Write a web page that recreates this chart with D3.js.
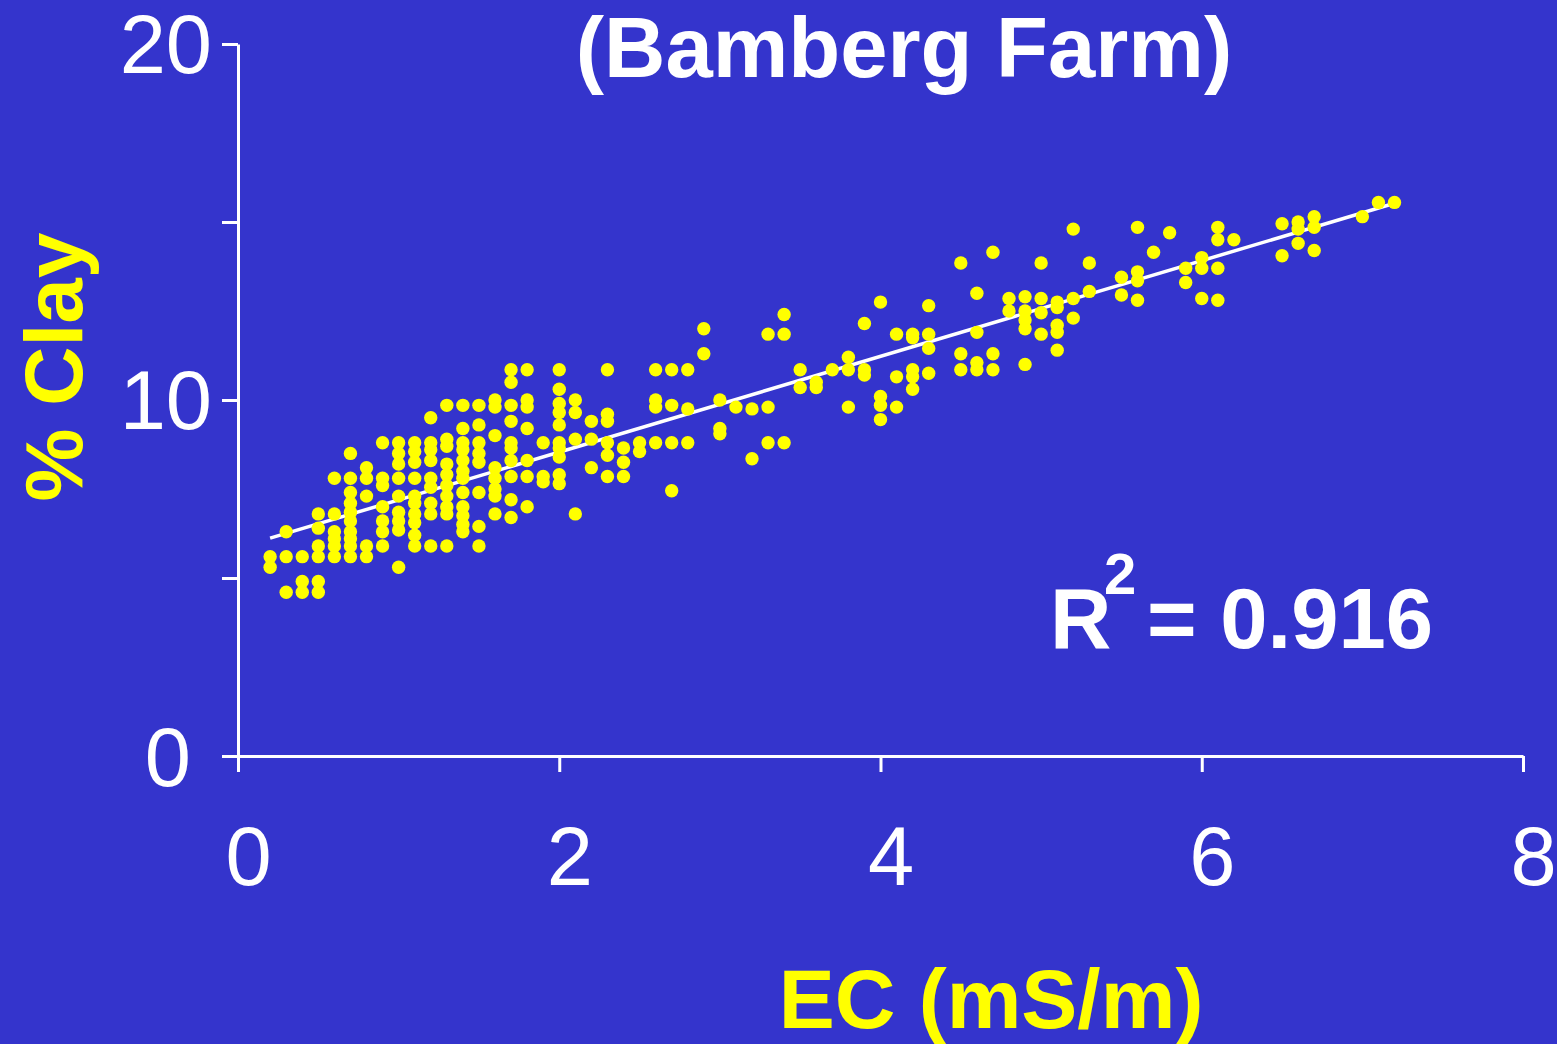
<!DOCTYPE html>
<html>
<head>
<meta charset="utf-8">
<script src="https://cdn.jsdelivr.net/npm/d3@7"></script>
<style>
  html, body { margin: 0; padding: 0; background: #3434cc; }
  svg { display: block; }
</style>
</head>
<body>
<div id="chart"></div>
<script>
// EC readings (mS/m), one entry per column of dots
var ecColumns = [0.2, 0.3, 0.4, 0.5, 0.6, 0.7, 0.8, 0.9, 1.0, 1.1, 1.2, 1.3, 1.4, 1.5, 1.6, 1.7, 1.8, 1.9,
  2.0, 2.1, 2.2, 2.3, 2.4, 2.5, 2.6, 2.7, 2.8, 2.9, 3.0, 3.1, 3.2, 3.3, 3.4, 3.5, 3.6, 3.7, 3.8, 3.9,
  4.0, 4.1, 4.2, 4.3, 4.5, 4.6, 4.7, 4.8, 4.9, 5.0, 5.1, 5.2, 5.3, 5.5, 5.6, 5.7, 5.8, 5.9,
  6.0, 6.1, 6.2, 6.5, 6.6, 6.7, 7.0, 7.1, 7.2];

// % clay values found at each EC column
var clayByColumn = [
  [5.6, 5.3],
  [6.3, 5.6, 4.6],
  [5.6, 4.9, 4.6],
  [6.8, 6.4, 5.9, 5.6, 4.9, 4.6],
  [7.8, 6.8, 6.3, 6.1, 5.9, 5.6],
  [8.5, 7.8, 7.4, 7.1, 6.85, 6.6, 6.3, 6.1, 5.9, 5.6],
  [8.1, 7.8, 7.3, 5.9, 5.6],
  [8.8, 7.8, 7.6, 7.0, 6.6, 6.3, 5.9],
  [8.8, 8.5, 8.2, 7.8, 7.3, 6.85, 6.6, 6.35, 5.3],
  [8.8, 8.55, 8.25, 7.8, 7.3, 7.1, 6.8, 6.55, 6.2, 5.9],
  [9.5, 8.8, 8.6, 8.3, 7.8, 7.55, 7.1, 6.8, 5.9],
  [9.85, 8.9, 8.7, 8.2, 7.9, 7.6, 7.3, 7.0, 6.8, 5.9],
  [9.85, 9.2, 8.8, 8.6, 8.3, 8.0, 7.8, 7.4, 7.0, 6.75, 6.5, 6.3],
  [9.85, 9.3, 8.8, 8.5, 8.25, 7.4, 6.45, 5.9],
  [10.0, 9.8, 9.0, 8.1, 7.8, 7.5, 7.3, 6.8],
  [10.85, 10.5, 9.85, 9.4, 8.8, 8.65, 8.3, 7.85, 7.2, 6.7],
  [10.85, 10.0, 9.8, 9.2, 8.3, 7.85, 7.0],
  [8.8, 7.85, 7.7],
  [10.85, 10.3, 9.9, 9.65, 9.3, 8.8, 8.65, 8.4, 7.9, 7.65],
  [10.0, 9.65, 8.9, 6.8],
  [9.4, 8.9, 8.1],
  [10.85, 9.6, 9.4, 8.8, 8.45, 7.85],
  [8.65, 8.25, 7.85],
  [8.8, 8.55],
  [10.85, 10.0, 9.8, 8.8],
  [10.85, 9.85, 8.8, 7.45],
  [10.85, 9.75, 8.8],
  [12.0, 11.3],
  [10.0, 9.2, 9.05],
  [9.8],
  [9.75, 8.35],
  [11.85, 9.8, 8.8],
  [12.4, 11.85, 8.8],
  [10.85, 10.35],
  [10.5, 10.35],
  [10.85],
  [11.2, 10.85, 9.8],
  [12.15, 10.85, 10.7],
  [12.75, 10.1, 9.85, 9.45],
  [11.85, 10.65, 9.8],
  [11.85, 11.75, 10.85, 10.65, 10.3],
  [12.65, 11.85, 11.45, 10.75],
  [13.85, 11.3, 10.85],
  [13.0, 11.9, 11.05, 10.85],
  [14.15, 11.3, 10.85],
  [12.85, 12.5],
  [12.9, 12.5, 12.25, 12.0, 11.0],
  [13.85, 12.85, 12.45, 11.85],
  [12.75, 12.6, 12.1, 11.9, 11.4],
  [14.8, 12.85, 12.3],
  [13.85, 13.05],
  [13.45, 12.95],
  [14.85, 13.6, 13.35, 12.8],
  [14.15],
  [14.7],
  [13.7, 13.3],
  [14.0, 13.7, 12.85],
  [14.85, 14.5, 13.7, 12.8],
  [14.5],
  [14.95, 14.05],
  [15.0, 14.8, 14.4],
  [15.15, 14.85, 14.2],
  [15.15],
  [15.55],
  [15.55]
];

// linear fit shown on the slide
var fitIntercept = 5.85;
var fitSlope = 1.344;
var rSquared = '0.916';

var xTicks = [0, 2, 4, 6, 8];
var yTicks = [0, 5, 10, 15, 20];

var titleText = '(Bamberg Farm)';
var xLabel = 'EC (mS/m)';
var yLabel = '% Clay';

//////////////////////////////////////////////////////////////
var width = 1557, height = 1044;
var bg = '#3434cc', yellow = '#ffff00', white = '#ffffff';
var font = '"Liberation Sans", Arial, Helvetica, sans-serif';

var points = [];
ecColumns.forEach(function(ec, i) {
  clayByColumn[i].forEach(function(c) {
    points.push({ ec: ec, clay: c });
  });
});

var x = d3.scaleLinear().domain([0, 8]).range([238, 1523]);
var y = d3.scaleLinear().domain([0, 20]).range([756, 44]);

var svg = d3.select('#chart').append('svg')
  .attr('width', width)
  .attr('height', height);

svg.append('rect')
  .attr('width', width)
  .attr('height', height)
  .attr('fill', bg);

// axes
var xAxis = d3.axisBottom(x).tickValues(xTicks).tickSize(16).tickSizeOuter(0);
var yAxis = d3.axisLeft(y).tickValues(yTicks).tickSize(16).tickSizeOuter(0)
  .tickFormat(function(d) { return d % 10 === 0 ? d : ''; });

var gx = svg.append('g')
  .attr('transform', 'translate(0,' + y(0) + ')')
  .call(xAxis);
var gy = svg.append('g')
  .attr('transform', 'translate(' + x(0) + ',0)')
  .call(yAxis);

[gx, gy].forEach(function(g) {
  g.selectAll('path, line').attr('stroke', white).attr('stroke-width', 3);
  g.selectAll('text')
    .attr('fill', white)
    .style('font-family', font)
    .style('font-size', '83px');
});

gx.selectAll('text').attr('y', 129).attr('dy', null).attr('dx', 10);
gy.selectAll('text').attr('x', -26).attr('dy', '0.34em');
gy.selectAll('.tick text').filter(function(d) { return d === 0; }).attr('dx', -21).attr('dy', '0.36em');

// fit line
var ecExtent = d3.extent(points, function(d) { return d.ec; });
svg.append('path')
  .datum(ecExtent)
  .attr('fill', 'none')
  .attr('stroke', white)
  .attr('stroke-width', 3.5)
  .attr('d', d3.line()
    .x(function(d) { return x(d); })
    .y(function(d) { return y(fitIntercept + fitSlope * d); }));

// dots
svg.append('g')
  .selectAll('circle')
  .data(points)
  .enter().append('circle')
  .attr('cx', function(d) { return x(d.ec); })
  .attr('cy', function(d) { return y(d.clay); })
  .attr('r', 6.7)
  .attr('fill', yellow);

// title and labels
svg.append('text')
  .attr('x', 904).attr('y', 77)
  .attr('text-anchor', 'middle')
  .attr('fill', white)
  .style('font-family', font).style('font-weight', 'bold').style('font-size', '85px')
  .text(titleText);

svg.append('text')
  .attr('transform', 'translate(82,367) rotate(-90)')
  .attr('text-anchor', 'middle')
  .attr('fill', yellow)
  .style('font-family', font).style('font-weight', 'bold').style('font-size', '82px')
  .text(yLabel);

svg.append('text')
  .attr('x', 991).attr('y', 1028)
  .attr('text-anchor', 'middle')
  .attr('fill', yellow)
  .style('font-family', font).style('font-weight', 'bold').style('font-size', '84px')
  .text(xLabel);

var r2 = svg.append('text')
  .attr('y', 648)
  .attr('fill', white)
  .style('font-family', font).style('font-weight', 'bold').style('font-size', '85px');
r2.append('tspan').attr('x', 1050).text('R');
r2.append('tspan').attr('x', 1104).attr('y', 594).style('font-size', '58px').text('2');
r2.append('tspan').attr('x', 1147).attr('y', 648).text('= ' + rSquared);
</script>
</body>
</html>
